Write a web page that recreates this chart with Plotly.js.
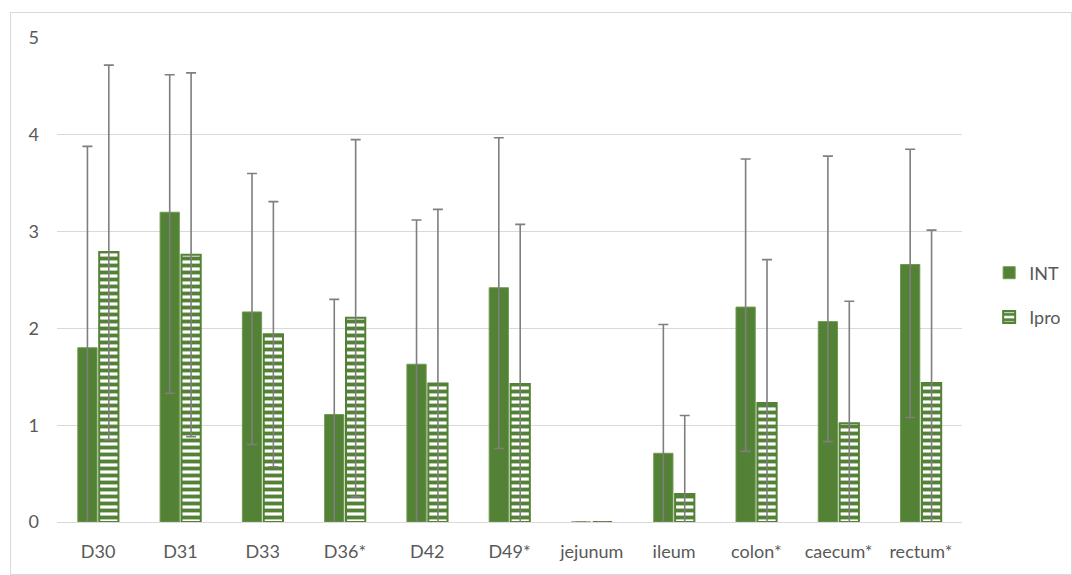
<!DOCTYPE html>
<html>
<head>
<meta charset="utf-8">
<script src="https://cdn.plot.ly/plotly-3.0.1.min.js"></script>
<style>
  html, body { margin: 0; padding: 0; background: #ffffff; }
  #wrap { position: absolute; left: 10px; top: 12px; width: 1060px; height: 561px; border: 1px solid #d9d9d9; background: #fff; overflow: hidden; }
  #chart { width: 1120px; height: 561px; }
</style>
</head>
<body>
<div id="wrap"><div id="chart"></div></div>
<script>
const categories = ["D30", "D31", "D33", "D36*", "D42", "D49*", "jejunum", "ileum", "colon*", "caecum*", "rectum*"];

const intValues = [1.80, 3.20, 2.17, 1.11, 1.63, 2.42, 0, 0.71, 2.22, 2.07, 2.66];
const intErrPlus = [2.08, 1.42, 1.43, 1.19, 1.49, 1.55, null, 1.33, 1.53, 1.71, 1.19];
const intErrMinus = [2.08, 1.87, 1.37, 1.19, 1.80, 1.66, null, 1.33, 1.49, 1.24, 1.58];

const iproValues = [2.79, 2.76, 1.94, 2.11, 1.43, 1.425, 0, 0.29, 1.23, 1.02, 1.435];
const iproErrPlus = [1.93, 1.88, 1.37, 1.84, 1.80, 1.65, null, 0.81, 1.48, 1.26, 1.58];
const iproErrMinus = [1.94, 1.88, 1.37, 1.85, 1.80, 1.65, null, 0.81, 1.48, 1.26, 1.58];

const seriesNames = ["INT", "Ipro"];
const yTicks = [0, 1, 2, 3, 4, 5];

const green = "#538135";
const errColor = "#7f7f7f";

const traces = [
  {
    type: "bar",
    name: seriesNames[0],
    legendgroup: "a",
    x: categories,
    y: intValues,
    marker: { color: green, line: { color: "#6f9a50", width: 1 } },
    error_y: { type: "data", symmetric: false, array: intErrPlus, arrayminus: intErrMinus, color: errColor, thickness: 1.6, width: 5 }
  },
  {
    type: "bar",
    name: seriesNames[1],
    legendgroup: "b",
    x: categories,
    y: iproValues,
    marker: {
      color: "#ffffff",
      line: { color: green, width: 2 },
      pattern: { shape: "-", fgcolor: green, bgcolor: "#ffffff", size: 7, solidity: 0.55, fillmode: "replace" }
    },
    error_y: { type: "data", symmetric: false, array: iproErrPlus, arrayminus: iproErrMinus, color: errColor, thickness: 1.6, width: 5 }
  }
];

const layout = {
  width: 1120,
  height: 561,
  margin: { l: 46, r: 169, t: 25, b: 52 },
  paper_bgcolor: "#ffffff",
  plot_bgcolor: "#ffffff",
  font: { family: "Lato, 'Open Sans', sans-serif", size: 18, color: "#595959" },
  barmode: "group",
  bargap: 0.48,
  bargroupgap: 0.1,
  xaxis: {
    type: "category",
    showline: true,
    linecolor: "#d9d9d9",
    linewidth: 1,
    showgrid: false,
    ticks: "",
    ticklabelstandoff: 13,
    tickfont: { size: 18, color: "#595959" }
  },
  yaxis: {
    range: [0, 5],
    tickvals: yTicks,
    showgrid: true,
    gridcolor: "#d9d9d9",
    gridwidth: 1,
    zeroline: false,
    showline: false,
    ticks: "",
    ticklabelstandoff: 17,
    tickfont: { size: 18, color: "#595959" }
  },
  showlegend: true,
  legend: {
    x: 1.03,
    xanchor: "left",
    y: 0.469,
    yanchor: "middle",
    traceorder: "grouped",
    tracegroupgap: 18,
    font: { size: 18, color: "#595959" },
    bgcolor: "rgba(0,0,0,0)"
  }
};

Plotly.newPlot("chart", traces, layout, { displayModeBar: false, staticPlot: true });
</script>
</body>
</html>
